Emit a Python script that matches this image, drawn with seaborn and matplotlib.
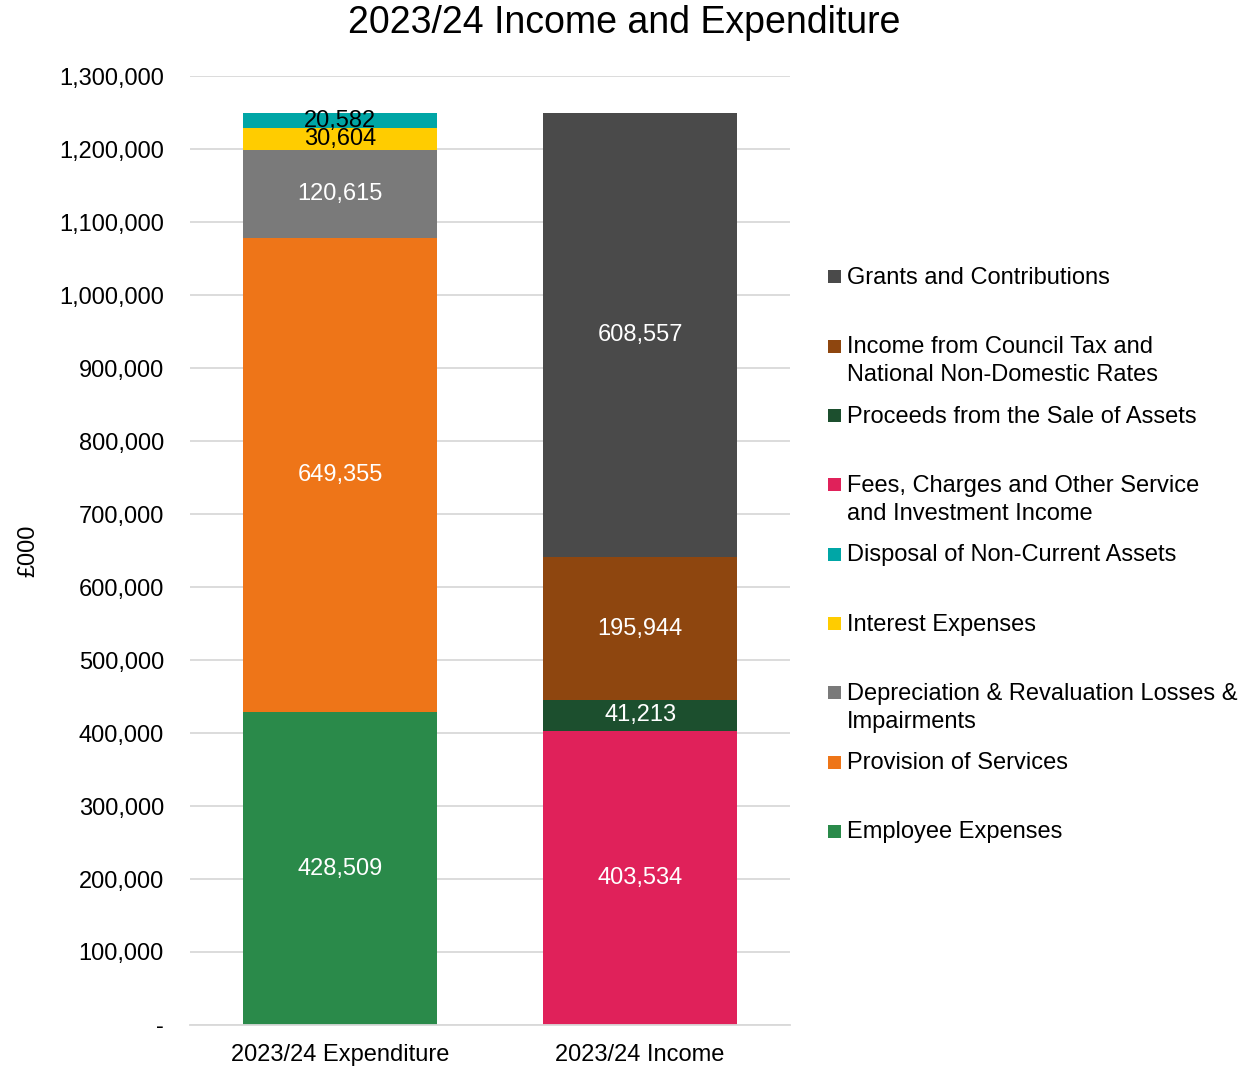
import pandas as pd
import seaborn as sns
import matplotlib.pyplot as plt
from matplotlib.patches import Patch, Rectangle
from matplotlib.legend_handler import HandlerPatch
from matplotlib.ticker import FuncFormatter

#--> data
categories = ['2023/24 Expenditure', '2023/24 Income']
series = ['Employee Expenses', 'Provision of Services',
          'Depreciation & Revaluation Losses &\nImpairments', 'Interest Expenses',
          'Disposal of Non-Current Assets',
          'Fees, Charges and Other Service\nand Investment Income',
          'Proceeds from the Sale of Assets',
          'Income from Council Tax and\nNational Non-Domestic Rates',
          'Grants and Contributions']
series_category = [0, 0, 0, 0, 0, 1, 1, 1, 1]
values = [428509, 649355, 120615, 30604, 20582, 403534, 41213, 195944, 608557]
colours = ['#2A8A4A', '#EE7518', '#7A7A7A', '#FFCC00', '#00A6A6',
           '#E0215A', '#1C4F2E', '#8E460F', '#4A4A4A']
label_colours = ['white', 'white', 'white', 'black', 'black',
                 'white', 'white', 'white', 'white']
y_ticks = [0, 100000, 200000, 300000, 400000, 500000, 600000,
           700000, 800000, 900000, 1000000, 1100000, 1200000, 1300000]

df = pd.DataFrame({
    'series': series,
    'category': [categories[i] for i in series_category],
    'value': values,
})

#--> plot style
sns.set_theme(style="whitegrid")
plt.rcParams['font.family'] = ['Liberation Sans', 'DejaVu Sans']
plt.rcParams['text.color'] = 'black'
plt.rcParams['axes.labelcolor'] = 'black'
FS = 17

fig = plt.figure(figsize=(12.6, 10.67), dpi=100)
ax = fig.add_axes([0.151, 0.0394, 0.476, 0.889])

# stacked bars, one series at a time
bottoms = {c: 0 for c in categories}
for i, s in enumerate(series):
    row = df[df['series'] == s]
    cat = row['category'].iloc[0]
    sns.barplot(data=row, x='category', y='value', order=categories,
                bottom=bottoms[cat], color=colours[i], width=0.645,
                errorbar=None, saturation=1, ax=ax, linewidth=0)
    cont = ax.containers[-1]
    ax.bar_label(cont, labels=[f'{v:,.0f}' for v in row['value']],
                 label_type='center', color=label_colours[i], fontsize=FS)
    bottoms[cat] += row['value'].iloc[0]

ax.set_xlim(-0.5, 1.5)
ax.set_ylim(0, 1300000)
ax.set_yticks(y_ticks)
ax.yaxis.set_major_formatter(FuncFormatter(lambda v, p: '-' if v == 0 else f'{v:,.0f}'))
ax.grid(axis='y', color='#D9D9D9', linewidth=1.3)
ax.grid(axis='x', visible=False)
ax.set_axisbelow(True)
for side in ['left', 'right', 'top']:
    ax.spines[side].set_visible(False)
ax.spines['bottom'].set_color('#D9D9D9')
ax.spines['bottom'].set_linewidth(1.3)
ax.tick_params(axis='y', length=0, pad=19, labelsize=FS, labelcolor='black')
ax.tick_params(axis='x', length=0, pad=14, labelsize=FS, labelcolor='black')
ax.set_xlabel('')
ax.set_ylabel('£000', fontsize=FS, color='black', labelpad=14)

fig.text(0.495, 1 - 23 / 1067, '2023/24 Income and Expenditure',
         ha='center', va='center', fontsize=27, color='black')

#--> legend: every entry two lines tall, square next to the first line
LINE_SHIFT = 10.9


def square(legend, orig_handle, xdescent, ydescent, width, height, fontsize):
    return Rectangle((-xdescent, LINE_SHIFT + 1.4), width, 9.4)


order = list(range(len(series)))[::-1]
handles = [Patch(facecolor=colours[i], edgecolor='none') for i in order]
labels = [series[i] if '\n' in series[i] else series[i] + '\n' for i in order]
leg = fig.legend(handles, labels, loc='upper left',
                 bbox_to_anchor=(828 / 1260, 1 - 267 / 1067),
                 frameon=False, fontsize=FS, handlelength=0.55, handleheight=0.7,
                 handletextpad=0.25, labelspacing=0.82, borderpad=0,
                 borderaxespad=0, labelcolor='black',
                 handler_map={Patch: HandlerPatch(patch_func=square)})
for t in leg.get_texts():
    t.set_linespacing(1.35)

fig.savefig('out.png', dpi=100)
